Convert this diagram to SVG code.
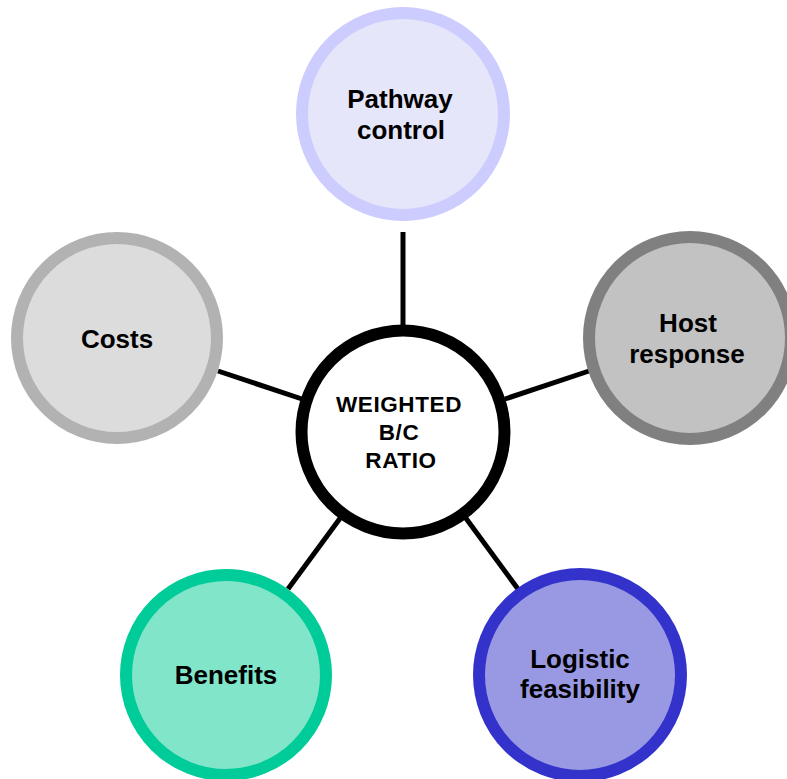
<svg xmlns="http://www.w3.org/2000/svg" width="787" height="779" viewBox="0 0 787 779">
<style>
.lbl{font-family:"Liberation Sans",Arial,sans-serif;font-weight:bold;font-size:26px;fill:#000;text-anchor:middle}
.ctr{font-family:"Liberation Sans",Arial,sans-serif;font-weight:bold;font-size:22.5px;fill:#000;text-anchor:middle;letter-spacing:0.6px}
.node{stroke-width:12}
.conn{stroke:#000;stroke-width:5;fill:none}
</style>
<rect width="787" height="779" fill="#fff"/>
<g id="connectors">
<line class="conn" x1="403" y1="232" x2="403" y2="327"/>
<line class="conn" x1="218" y1="371" x2="302" y2="399"/>
<line class="conn" x1="589" y1="371" x2="505" y2="399"/>
<line class="conn" x1="288" y1="589" x2="341" y2="517"/>
<line class="conn" x1="518" y1="589" x2="465" y2="517"/>
</g>
<g id="pathway">
<circle class="node" cx="403" cy="114" r="101" fill="#e6e6fa" stroke="#ccccff"/>
<text class="lbl" x="400" y="108">Pathway</text>
<text class="lbl" x="401" y="139">control</text>
</g>
<g id="host">
<circle class="node" cx="690" cy="338" r="101" fill="#c2c2c2" stroke="#808080"/>
<text class="lbl" x="688" y="332">Host</text>
<text class="lbl" x="687" y="363">response</text>
</g>
<g id="costs">
<circle class="node" cx="117" cy="338" r="100" fill="#dcdcdc" stroke="#b2b2b2"/>
<text class="lbl" x="117" y="348">Costs</text>
</g>
<g id="benefits">
<circle class="node" cx="226" cy="675" r="100" fill="#80e5c9" stroke="#00cc99"/>
<text class="lbl" x="226" y="684">Benefits</text>
</g>
<g id="logistic">
<circle class="node" cx="580" cy="675" r="101" fill="#9999e3" stroke="#3333cc"/>
<text class="lbl" x="580" y="668">Logistic</text>
<text class="lbl" x="580" y="698">feasibility</text>
</g>
<g id="center">
<circle cx="403" cy="432" r="101.5" fill="#fff" stroke="#000" stroke-width="12"/>
<text class="ctr" x="399" y="412">WEIGHTED</text>
<text class="ctr" x="399" y="440">B/C</text>
<text class="ctr" x="401" y="468">RATIO</text>
</g>
</svg>
